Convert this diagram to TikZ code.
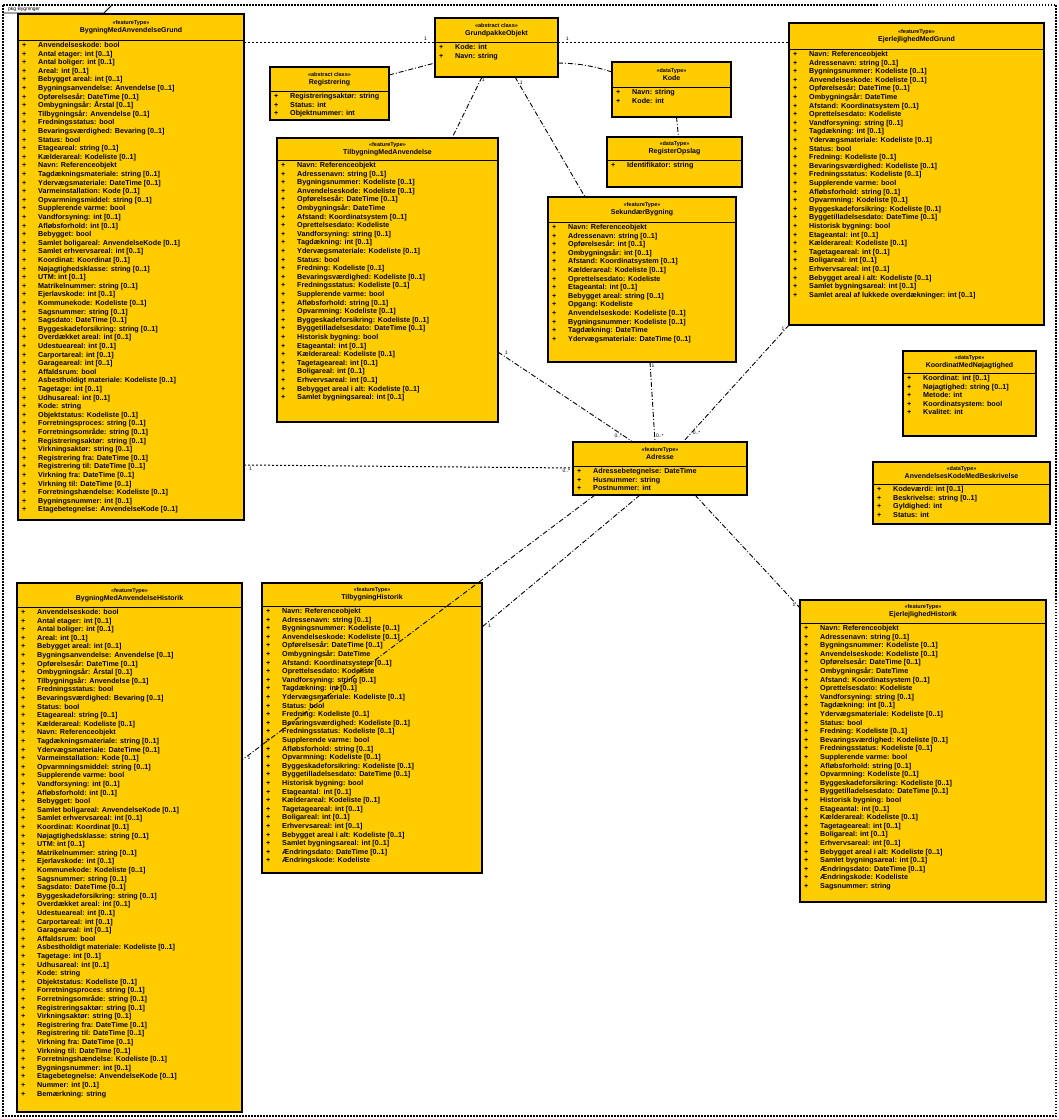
\documentclass[tikz,border=0pt]{standalone}
\usepackage{fontspec}
\setmainfont{Liberation Sans}
\definecolor{umlyellow}{RGB}{255,204,0}
\newcommand\ClsAttrFont{\fontsize{7.2}{8.6}\selectfont\bfseries}
\newcommand\ClsHeadFont{\fontsize{7}{8}\selectfont\bfseries}
\newcommand\ClsStereoFont{\fontsize{5.5}{6}\selectfont\bfseries}
\newcommand\Qa[1]{\makebox[16pt][l]{+}#1\\}
\tikzset{
 clsbox/.style={draw=black, line width=1.1pt, fill=umlyellow, inner sep=0pt, outer sep=0pt},
 clsline/.style={draw=black, line width=0.9pt},
 clshead/.style={align=center, inner sep=0pt, font=\ClsHeadFont},
 clsattr/.style={anchor=north west, align=left, inner sep=0pt, font=\ClsAttrFont},
 assoc/.style={draw=black, line width=0.9pt, dash pattern=on 5pt off 2pt on 1pt off 2pt},
 assocdot/.style={draw=black, line width=1pt, dash pattern=on 2pt off 2pt},
 mult/.style={font=\fontsize{5}{6}\selectfont, inner sep=1pt},
}
% #1 name, #2 x1, #3 y1, #4 x2, #5 y2, #6 separator y, #7 stereotype, #8 class name, #9 attributes
\newcommand\umlcls[9]{%
 \node[clsbox, minimum width={(#4-#2)*1pt}, minimum height={(#5-#3)*1pt}] (#1) at ({(#2+#4)/2},{(#3+#5)/2}) {};
 \draw[clsline] (#2,#6) -- (#4,#6);
 \node[clshead] (#1-title) at ({(#2+#4)/2},{(#3+#6)/2}) {{\ClsStereoFont «#7»}\\#8};
 \node[clsattr] (#1-attrs) at (#2+4,#6+2) {#9};
}
\newcommand\ListBig{%
\Qa{Anvendelseskode: bool}
\Qa{Antal etager: int [0..1]}
\Qa{Antal boliger: int [0..1]}
\Qa{Areal: int [0..1]}
\Qa{Bebygget areal: int [0..1]}
\Qa{Bygningsanvendelse: Anvendelse [0..1]}
\Qa{Opførelsesår: DateTime [0..1]}
\Qa{Ombygningsår: Årstal [0..1]}
\Qa{Tilbygningsår: Anvendelse [0..1]}
\Qa{Fredningsstatus: bool}
\Qa{Bevaringsværdighed: Bevaring [0..1]}
\Qa{Status: bool}
\Qa{Etageareal: string [0..1]}
\Qa{Kælderareal: Kodeliste [0..1]}
\Qa{Navn: Referenceobjekt}
\Qa{Tagdækningsmateriale: string [0..1]}
\Qa{Ydervægsmateriale: DateTime [0..1]}
\Qa{Varmeinstallation: Kode [0..1]}
\Qa{Opvarmningsmiddel: string [0..1]}
\Qa{Supplerende varme: bool}
\Qa{Vandforsyning: int [0..1]}
\Qa{Afløbsforhold: int [0..1]}
\Qa{Bebygget: bool}
\Qa{Samlet boligareal: AnvendelseKode [0..1]}
\Qa{Samlet erhvervsareal: int [0..1]}
\Qa{Koordinat: Koordinat [0..1]}
\Qa{Nøjagtighedsklasse: string [0..1]}
\Qa{UTM: int [0..1]}
\Qa{Matrikelnummer: string [0..1]}
\Qa{Ejerlavskode: int [0..1]}
\Qa{Kommunekode: Kodeliste [0..1]}
\Qa{Sagsnummer: string [0..1]}
\Qa{Sagsdato: DateTime [0..1]}
\Qa{Byggeskadeforsikring: string [0..1]}
\Qa{Overdækket areal: int [0..1]}
\Qa{Udestueareal: int [0..1]}
\Qa{Carportareal: int [0..1]}
\Qa{Garageareal: int [0..1]}
\Qa{Affaldsrum: bool}
\Qa{Asbestholdigt materiale: Kodeliste [0..1]}
\Qa{Tagetage: int [0..1]}
\Qa{Udhusareal: int [0..1]}
\Qa{Kode: string}
\Qa{Objektstatus: Kodeliste [0..1]}
\Qa{Forretningsproces: string [0..1]}
\Qa{Forretningsområde: string [0..1]}
\Qa{Registreringsaktør: string [0..1]}
\Qa{Virkningsaktør: string [0..1]}
\Qa{Registrering fra: DateTime [0..1]}
\Qa{Registrering til: DateTime [0..1]}
\Qa{Virkning fra: DateTime [0..1]}
\Qa{Virkning til: DateTime [0..1]}
\Qa{Forretningshændelse: Kodeliste [0..1]}
\Qa{Bygningsnummer: int [0..1]}
\Qa{Etagebetegnelse: AnvendelseKode [0..1]}}
\newcommand\ListMid{%
\Qa{Navn: Referenceobjekt}
\Qa{Adressenavn: string [0..1]}
\Qa{Bygningsnummer: Kodeliste [0..1]}
\Qa{Anvendelseskode: Kodeliste [0..1]}
\Qa{Opførelsesår: DateTime [0..1]}
\Qa{Ombygningsår: DateTime}
\Qa{Afstand: Koordinatsystem [0..1]}
\Qa{Oprettelsesdato: Kodeliste}
\Qa{Vandforsyning: string [0..1]}
\Qa{Tagdækning: int [0..1]}
\Qa{Ydervægsmateriale: Kodeliste [0..1]}
\Qa{Status: bool}
\Qa{Fredning: Kodeliste [0..1]}
\Qa{Bevaringsværdighed: Kodeliste [0..1]}
\Qa{Fredningsstatus: Kodeliste [0..1]}
\Qa{Supplerende varme: bool}
\Qa{Afløbsforhold: string [0..1]}
\Qa{Opvarmning: Kodeliste [0..1]}
\Qa{Byggeskadeforsikring: Kodeliste [0..1]}
\Qa{Byggetilladelsesdato: DateTime [0..1]}
\Qa{Historisk bygning: bool}
\Qa{Etageantal: int [0..1]}
\Qa{Kælderareal: Kodeliste [0..1]}
\Qa{Tagetageareal: int [0..1]}
\Qa{Boligareal: int [0..1]}
\Qa{Erhvervsareal: int [0..1]}
\Qa{Bebygget areal i alt: Kodeliste [0..1]}
\Qa{Samlet bygningsareal: int [0..1]}}
\begin{document}
\begin{tikzpicture}[x=1pt,y=-1pt]
\useasboundingbox (0,0) rectangle (1059,1119);
\fill[white] (0,0) rectangle (1059,1119);
% package frame
\draw[line width=1.2pt, dash pattern=on 1.5pt off 1.5pt] (3,5) rectangle (1056,1116);
\draw[line width=0.8pt] (3,13) -- (104,13) -- (112,5);
\node[anchor=west, font=\fontsize{5}{6}\selectfont, inner sep=0pt] (pkgtab) at (8,9) {pkg Bygninger};
% classes
\umlcls{A}{18}{14}{244}{520}{40}{featureType}{BygningMedAnvendelseGrund}{\ListBig}
\umlcls{B}{435}{18}{558}{77}{42}{abstract class}{GrundpakkeObjekt}{\Qa{Kode: int}\Qa{Navn: string}}
\umlcls{C}{270}{67}{389}{120}{91}{abstract class}{Registrering}{\Qa{Registreringsaktør: string}\Qa{Status: int}\Qa{Objektnummer: int}}
\umlcls{D}{789}{23}{1044}{325}{49}{featureType}{EjerlejlighedMedGrund}{\ListMid\Qa{Samlet areal af lukkede overdækninger: int [0..1]}}
\umlcls{E}{612}{62}{731}{117}{87}{dataType}{Kode}{\Qa{Navn: string}\Qa{Kode: int}}
\umlcls{F}{607}{137}{742}{187}{160}{dataType}{RegisterOpslag}{\Qa{Identifikator: string}}
\umlcls{G}{277}{138}{498}{422}{160}{featureType}{TilbygningMedAnvendelse}{\ListMid}
\umlcls{H}{548}{197}{736}{362}{222}{featureType}{SekundærBygning}{%
\Qa{Navn: Referenceobjekt}
\Qa{Adressenavn: string [0..1]}
\Qa{Opførelsesår: int [0..1]}
\Qa{Ombygningsår: int [0..1]}
\Qa{Afstand: Koordinatsystem [0..1]}
\Qa{Kælderareal: Kodeliste [0..1]}
\Qa{Oprettelsesdato: Kodeliste}
\Qa{Etageantal: int [0..1]}
\Qa{Bebygget areal: string [0..1]}
\Qa{Opgang: Kodeliste}
\Qa{Anvendelseskode: Kodeliste [0..1]}
\Qa{Bygningsnummer: Kodeliste [0..1]}
\Qa{Tagdækning: DateTime}
\Qa{Ydervægsmateriale: DateTime [0..1]}}
\umlcls{I}{903}{351}{1036}{436}{373}{dataType}{KoordinatMedNøjagtighed}{\Qa{Koordinat: int [0..1]}\Qa{Nøjagtighed: string [0..1]}\Qa{Metode: int}\Qa{Koordinatsystem: bool}\Qa{Kvalitet: int}}
\umlcls{J}{873}{462}{1050}{524}{484}{dataType}{AnvendelsesKodeMedBeskrivelse}{\Qa{Kodeværdi: int [0..1]}\Qa{Beskrivelse: string [0..1]}\Qa{Gyldighed: int}\Qa{Status: int}}
\umlcls{K}{573}{442}{747}{495}{466}{featureType}{Adresse}{\Qa{Adressebetegnelse: DateTime}\Qa{Husnummer: string}\Qa{Postnummer: int}}
\umlcls{L}{17}{583}{242}{1112}{607}{featureType}{BygningMedAnvendelseHistorik}{\ListBig\Qa{Nummer: int [0..1]}\Qa{Bemærkning: string}}
\umlcls{M}{262}{583}{482}{873}{606}{featureType}{TilbygningHistorik}{\ListMid\Qa{Ændringsdato: DateTime [0..1]}\Qa{Ændringskode: Kodeliste}}
\umlcls{N}{800}{600}{1046}{902}{623}{featureType}{EjerlejlighedHistorik}{\ListMid\Qa{Ændringsdato: DateTime [0..1]}\Qa{Ændringskode: Kodeliste}\Qa{Sagsnummer: string}}
% connectors
\draw[assocdot] ([yshift=-28pt]A.north east) -- ([yshift=-24pt]B.north west)
  node[mult, pos=0.95, above] {1};
\draw[assocdot] ([yshift=-24pt]B.north east) -- ([yshift=-19pt]D.north west)
  node[mult, pos=0.04, above] {1};
\draw[assoc] ([yshift=-8pt]C.north east) -- ([yshift=-45pt]B.north west);
\draw[assoc] ([yshift=-45pt]B.north east) to[bend left=8] ([yshift=-10pt]E.north west);
\draw[assoc] ([xshift=47pt]B.south west) -- ([xshift=175pt]G.north west)
  node[mult, pos=0.05, right] {1};
\draw[assoc] ([xshift=80pt]B.south west) -- ([xshift=37pt]H.north west)
  node[mult, pos=0.05, right] {1};
\draw[assoc] ([xshift=5pt]E.south) -- ([xshift=4pt]F.north);
\draw[assocdot] ([yshift=-451pt]A.north east) -- ([yshift=-26pt]K.north west)
  node[mult, pos=0.02, below] {1} node[mult, pos=0.98, below] {0..*};
\draw[assoc] ([yshift=-214pt]G.north east) -- ([xshift=60pt]K.north west)
  node[mult, pos=0.04, above right] {1} node[mult, pos=0.93, left] {0..*};
\draw[assoc] ([xshift=102pt]H.south west) -- ([xshift=82pt]K.north west)
  node[mult, pos=0.05, right] {1} node[mult, pos=0.92, right] {0..*};
\draw[assoc] (D.south west) -- ([xshift=110pt]K.north west)
  node[mult, pos=0.03, left] {1} node[mult, pos=0.92, right] {0..*};
\draw[assoc] ([xshift=22pt]K.south west) -- ([yshift=-177pt]L.north east)
  node[mult, pos=0.98, below] {1};
\draw[assoc] ([xshift=67pt]K.south west) -- ([yshift=-44pt]M.north east)
  node[mult, pos=0.97, below right] {1};
\draw[assoc] ([xshift=122pt]K.south west) -- ([yshift=-8pt]N.north west)
  node[mult, pos=0.97, left] {1};
\end{tikzpicture}
\end{document}
